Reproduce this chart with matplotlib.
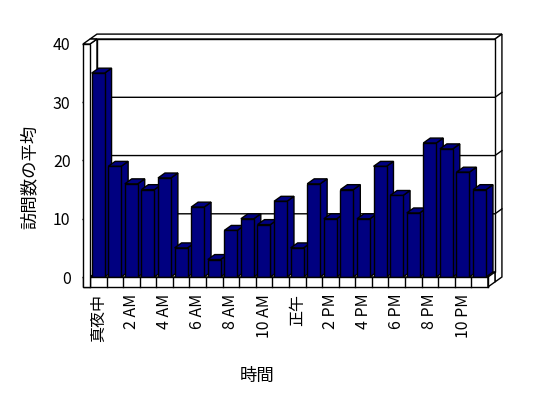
import matplotlib
matplotlib.use("Agg")
import matplotlib.pyplot as plt
from matplotlib.patches import Polygon, Rectangle

plt.rcParams['font.family'] = ['Noto Sans CJK JP', 'DejaVu Sans']

# data: average visits per hour of day
hours = list(range(24))
visits = [35, 19, 16, 15, 17, 5, 12, 3, 8, 10, 9, 13,
          5, 16, 10, 15, 10, 19, 14, 11, 23, 22, 18, 15]
hour_labels = ["真夜中", "2 AM", "4 AM", "6 AM", "8 AM", "10 AM",
               "正午", "2 PM", "4 PM", "6 PM", "8 PM", "10 PM"]
y_ticks = [0, 10, 20, 30, 40]

navy = "#000080"
dx, dy = 0.42, 0.85     # depth offset (category units, value units)
wall = 0.42             # left wall thickness
floor = 1.7             # floor thickness
n = len(hours)
ymax = 40

fig = plt.figure(figsize=(5.48, 3.98), dpi=100)
ax = fig.add_axes([90 / 548, 1 - 277 / 398, 398 / 548, 233 / 398])
ax.set_xlim(0, n)
ax.set_ylim(0, ymax)
for s in ax.spines.values():
    s.set_visible(False)

lw = 1.0
kw = dict(facecolor="white", edgecolor="black", lw=lw, clip_on=False)

# back wall slab (top and right side), then its front face with grid
ax.add_patch(Polygon([(-wall + dx, ymax + dy), (n + dx, ymax + dy), (n + 2 * dx, ymax + 2 * dy),
                      (-wall + 2 * dx, ymax + 2 * dy)], zorder=1, **kw))
ax.add_patch(Polygon([(n + dx, -floor + dy), (n + dx, ymax + dy), (n + 2 * dx, ymax + 2 * dy),
                      (n + 2 * dx, -floor + 2 * dy)], zorder=1, **kw))
ax.add_patch(Rectangle((dx, dy), n, ymax, zorder=1.1, **kw))
for v in y_ticks[1:-1]:
    ax.plot([dx, n + dx, n + 2 * dx], [v + dy, v + dy, v + 2 * dy], color="black", lw=lw,
            zorder=1.2, clip_on=False)

# left wall inner face and floor top
ax.add_patch(Polygon([(0, 0), (dx, dy), (dx, ymax + dy), (0, ymax)], zorder=1.3, **kw))
ax.add_patch(Polygon([(0, 0), (n, 0), (n + dx, dy), (dx, dy)], zorder=1.3, **kw))

# bars
bars = ax.bar([h + 0.1 for h in hours], visits, width=0.78, align="edge",
              color=navy, edgecolor="black", lw=lw)
for i, (b, v) in enumerate(zip(bars, visits)):
    x0 = b.get_x()
    x1 = x0 + b.get_width()
    z = 2 + i * 0.01
    b.set_zorder(z + 0.005)
    ax.add_patch(Polygon([(x1, 0), (x1 + dx, dy), (x1 + dx, v + dy), (x1, v)],
                         facecolor=navy, edgecolor="black", lw=lw, zorder=z, clip_on=False))
    ax.add_patch(Polygon([(x0, v), (x1, v), (x1 + dx, v + dy), (x0 + dx, v + dy)],
                         facecolor=navy, edgecolor="black", lw=lw, zorder=z, clip_on=False))

# floor front face with category dividers, floor right side
ax.add_patch(Rectangle((-wall, -floor), n + wall, floor, zorder=3, **kw))
for h in range(n + 1):
    ax.plot([h, h], [-floor, 0], color="black", lw=lw, zorder=3.1, clip_on=False)
ax.add_patch(Polygon([(n, -floor), (n, 0), (n + dx, dy), (n + dx, -floor + dy)], zorder=3, **kw))

# left wall front face and top
ax.add_patch(Rectangle((-wall, -floor), wall, ymax + floor, zorder=3.2, **kw))
ax.add_patch(Polygon([(-wall, ymax), (0, ymax), (dx, ymax + dy), (-wall + dx, ymax + dy)],
                     zorder=3.2, **kw))

ax.set_yticks(y_ticks)
ax.tick_params(axis="y", length=6, width=lw, pad=8, labelsize=11.5, direction="out")
for t in ax.yaxis.get_major_ticks():
    t.tick1line.set_zorder(4)
ax.set_xticks([h + 0.5 for h in hours[::2]])
ax.set_xticklabels(hour_labels, rotation=90, fontsize=11.5)
ax.tick_params(axis="x", length=0, pad=12)

ax.set_ylabel("訪問数の平均", fontsize=12.5)
ax.yaxis.set_label_coords(-0.13, 0.43)
ax.set_xlabel("時間", fontsize=12.5)
ax.xaxis.set_label_coords(0.42, -0.385)

fig.savefig("out.png", dpi=100)
